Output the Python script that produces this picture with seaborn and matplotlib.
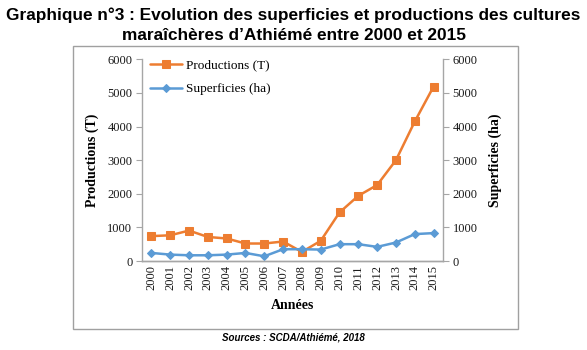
import matplotlib
matplotlib.use("Agg")
import matplotlib.pyplot as plt
import seaborn as sns
import pandas as pd
from matplotlib.patches import Rectangle

years = list(range(2000, 2016))
productions = [740, 765, 905, 715, 670, 520, 520, 580, 270, 600, 1445, 1940, 2260, 3000, 4150, 5190]
superficies = [240, 190, 170, 170, 190, 240, 140, 350, 350, 340, 500, 500, 420, 550, 800, 830]
yticks = [0, 1000, 2000, 3000, 4000, 5000, 6000]

sns.set_style("white")
plt.rcParams['font.family'] = ['Liberation Serif', 'DejaVu Serif']
plt.rcParams['text.color'] = 'black'
plt.rcParams['axes.labelcolor'] = 'black'
plt.rcParams['xtick.color'] = 'black'
plt.rcParams['ytick.color'] = 'black'

df = pd.DataFrame({"Année": years, "Productions": productions, "Superficies": superficies})

fig = plt.figure(figsize=(5.87, 3.5), dpi=100)
ax = fig.add_axes([142/587, 1-261/350, 301/587, (261-59.3)/350])
ax2 = ax.twinx()

orange = "#ED7D31"
blue = "#5B9BD5"
sns.lineplot(data=df, x="Année", y="Productions", ax=ax, color=orange, marker="s",
             markersize=6, markeredgecolor=orange, linewidth=1.8, label="Productions (T)", legend=False)
sns.lineplot(data=df, x="Année", y="Superficies", ax=ax2, color=blue, marker="D",
             markersize=4.5, markeredgecolor=blue, linewidth=1.8, label="Superficies (ha)", legend=False)

for a in (ax, ax2):
    a.set_ylim(0, 6000)
    a.set_yticks(yticks)
    a.set_xlim(1999.5, 2015.5)
    a.spines['top'].set_visible(False)
    for s in ('left', 'right', 'bottom'):
        a.spines[s].set_color('#A6A6A6')
        a.spines[s].set_linewidth(1.0)
    a.tick_params(axis='y', length=4, color='#A6A6A6', labelcolor='#1a1a1a', labelsize=9, pad=3)

ax.set_xticks(years)
ax.set_xticklabels([str(y) for y in years], rotation=90, fontsize=9, color='#1a1a1a')
ax.tick_params(axis='x', length=0, pad=3)
ax.spines['right'].set_visible(False)
ax2.spines['left'].set_visible(False)

ax.set_ylabel("Productions (T)", fontsize=10, fontweight='bold', labelpad=6)
ax2.set_ylabel("Superficies (ha)", fontsize=10, fontweight='bold', labelpad=8)
ax.set_xlabel("Années", fontsize=10, fontweight='bold', labelpad=6)

h1, l1 = ax.get_legend_handles_labels()
h2, l2 = ax2.get_legend_handles_labels()
ax2.legend(h1 + h2, l1 + l2, loc='upper left', bbox_to_anchor=(0.0, 1.04), frameon=False,
           fontsize=9.5, handlelength=2.4, labelspacing=0.9, handletextpad=0.3,
           borderaxespad=0.2)

fig.patches.append(Rectangle((73/587, 1-329/350), (518-73)/587, (329-46)/350,
                             transform=fig.transFigure, fill=False,
                             edgecolor='#A0A0A0', linewidth=1.0))

sans = ['Liberation Sans', 'DejaVu Sans']
fig.text(0.5, 1-15/350, "Graphique n°3 : Evolution des superficies et productions des cultures",
         ha='center', va='center', fontsize=12.4, fontweight='bold', family=sans)
fig.text(0.5, 1-36/350, "maraîchères d’Athiémé entre 2000 et 2015",
         ha='center', va='center', fontsize=12.4, fontweight='bold', family=sans)
fig.text(0.5, 1-337/350, "Sources : SCDA/Athiémé, 2018", ha='center', va='center',
         fontsize=7, fontweight='bold', style='italic', family=sans)

fig.savefig("out.png", dpi=100)
